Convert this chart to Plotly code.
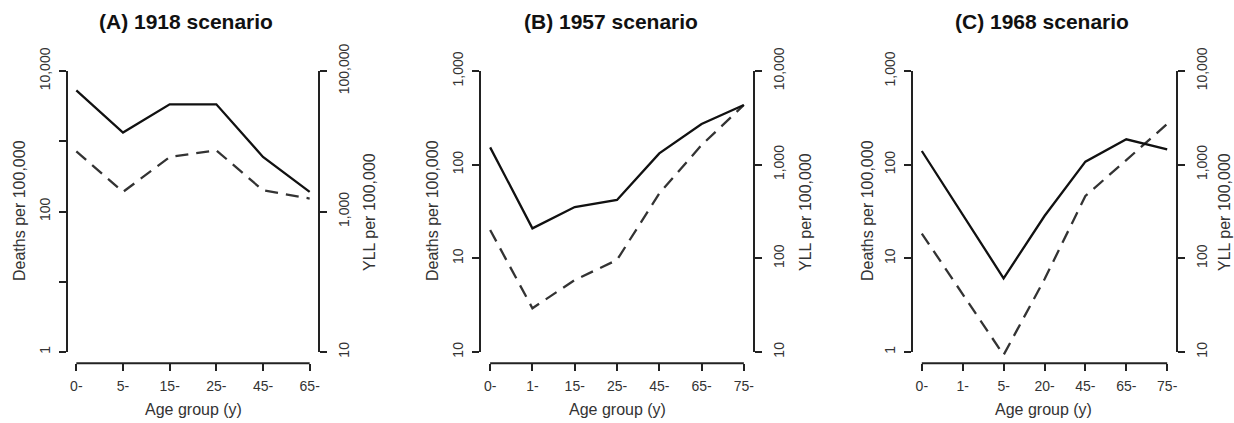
import math
import plotly.graph_objects as go

# ---------------- data ----------------
ages_A = ["0-", "5-", "15-", "25-", "45-", "65-"]
deaths_A = [720, 190, 597, 743, 200, 153]
yll_A = [53100, 13300, 33600, 33600, 5970, 1900]

ages_B = ["0-", "1-", "15-", "25-", "45-", "65-", "75-"]
deaths_B = [20.1, 2.93, 5.87, 9.6, 49.4, 162, 434]
yll_B = [1530, 209, 353, 420, 1321, 2716, 4335]

ages_C = ["0-", "1-", "5-", "20-", "45-", "65-", "75-"]
deaths_C = [18.4, 4.08, 0.93, 5.97, 46.3, 112, 272]
yll_C = [1400, 289, 61.2, 283, 1077, 1866, 1459]

titles = ["(A) 1918 scenario", "(B) 1957 scenario", "(C) 1968 scenario"]

left_ticks_A = [1, 10, 100, 1000, 10000]
left_text_A = ["1", "", "100", "", "10,000"]
right_ticks_A = [10, 1000, 100000]
right_text_A = ["10", "1,000", "100,000"]

left_ticks_B = [1, 10, 100, 1000]
left_text_B = ["10", "10", "100", "1,000"]
right_ticks_B = [10, 100, 1000, 10000]
right_text_B = ["10", "100", "1,000", "10,000"]

left_ticks_C = [1, 10, 100, 1000]
left_text_C = ["1", "10", "100", "1,000"]
right_ticks_C = [10, 100, 1000, 10000]
right_text_C = ["10", "100", "1,000", "10,000"]

# ---------------- layout geometry (pixels) ----------------
W, H = 1234, 423
FONT = "Liberation Sans, Arial, Helvetica, sans-serif"
TXT = "#333333"
AX = "#222222"
PAD = 0.04  # R-style axis extension

panels = [
    dict(ages=ages_A, deaths=deaths_A, yll=yll_A, px=(67, 319),
         lt=left_ticks_A, ltx=left_text_A, rt=right_ticks_A, rtx=right_text_A,
         title_x=186, ylab_x=19, y2lab_x=369, xlab_x=193),
    dict(ages=ages_B, deaths=deaths_B, yll=yll_B, px=(480, 754),
         lt=left_ticks_B, ltx=left_text_B, rt=right_ticks_B, rtx=right_text_B,
         title_x=611, ylab_x=432, y2lab_x=805, xlab_x=617),
    dict(ages=ages_C, deaths=deaths_C, yll=yll_C, px=(912, 1177),
         lt=left_ticks_C, ltx=left_text_C, rt=right_ticks_C, rtx=right_text_C,
         title_x=1042, ylab_x=867, y2lab_x=1224, xlab_x=1043),
]

y_top_px, y_bot_px = 59.8, 363.2
ydom = [(H - y_bot_px) / H, (H - y_top_px) / H]

fig = go.Figure()
layout = dict(
    width=W, height=H, margin=dict(l=0, r=0, t=0, b=0, pad=0, autoexpand=False),
    paper_bgcolor="white", plot_bgcolor="white", showlegend=False,
    font=dict(family=FONT, color=TXT, size=14),
)
shapes = []
annotations = []
f = PAD / (1 + 2 * PAD)

def logrange(ticks):
    lo, hi = math.log10(ticks[0]), math.log10(ticks[-1])
    span = hi - lo
    return [lo - PAD * span, hi + PAD * span]

for i, p in enumerate(panels):
    n = i + 1
    xk = "x" if n == 1 else f"x{n}"
    yl = "y" if n == 1 else f"y{2 * n - 1}"
    yr = f"y{2 * n}"
    xkey = "xaxis" if n == 1 else f"xaxis{n}"
    ylkey = "yaxis" if n == 1 else f"yaxis{2 * n - 1}"
    yrkey = f"yaxis{2 * n}"

    ncat = len(p["ages"])
    span = ncat - 1
    layout[xkey] = dict(
        domain=[p["px"][0] / W, p["px"][1] / W], anchor=yl,
        type="category", range=[-PAD * span, span + PAD * span],
        showgrid=False, zeroline=False, showline=False, automargin=False,
        ticks="outside", ticklen=7, tickwidth=2, tickcolor=AX,
        ticklabelstandoff=3,
        tickfont=dict(size=14, color=TXT, family=FONT),
    )
    layout[ylkey] = dict(
        domain=ydom, anchor=xk, type="log", range=logrange(p["lt"]),
        tickvals=p["lt"], ticktext=p["ltx"], tickangle=-90,
        showgrid=False, zeroline=False, showline=False, automargin=False,
        ticks="outside", ticklen=7, tickwidth=2, tickcolor=AX,
        ticklabelstandoff=3,
        tickfont=dict(size=14, color=TXT, family=FONT),
    )
    layout[yrkey] = dict(
        overlaying=yl, side="right", anchor=xk, type="log", range=logrange(p["rt"]),
        tickvals=p["rt"], ticktext=p["rtx"], tickangle=-90,
        showgrid=False, zeroline=False, showline=False, automargin=False,
        ticks="outside", ticklen=7, tickwidth=2, tickcolor=AX,
        ticklabelstandoff=5,
        tickfont=dict(size=14, color=TXT, family=FONT),
    )

    fig.add_trace(go.Scatter(
        x=p["ages"], y=p["deaths"], mode="lines", xaxis=xk, yaxis=yl,
        line=dict(color="#333333", width=2.3, dash="13px,8px"),
        name="Deaths", cliponaxis=False,
    ))
    fig.add_trace(go.Scatter(
        x=p["ages"], y=p["yll"], mode="lines", xaxis=xk, yaxis=yr,
        line=dict(color="#111111", width=2.3),
        name="YLL", cliponaxis=False,
    ))

    # R-style axis lines spanning only the tick range
    line_style = dict(color=AX, width=2)
    shapes.append(dict(type="line", xref=f"{xk} domain", yref=f"{yl} domain",
                       x0=0, x1=0, y0=f, y1=1 - f, line=line_style))
    shapes.append(dict(type="line", xref=f"{xk} domain", yref=f"{yl} domain",
                       x0=1, x1=1, y0=f, y1=1 - f, line=line_style))
    shapes.append(dict(type="line", xref=f"{xk} domain", yref=f"{yl} domain",
                       x0=f, x1=1 - f, y0=0, y1=0, line=line_style))

    annotations.append(dict(
        text=f"<b>{titles[i]}</b>", x=p["title_x"] / W, y=(H - 22) / H,
        xref="paper", yref="paper", showarrow=False, xanchor="center", yanchor="middle",
        font=dict(size=21, color="#111111", family=FONT),
    ))
    annotations.append(dict(
        text="Deaths per 100,000", x=p["ylab_x"] / W, y=(H - 211) / H,
        xref="paper", yref="paper", showarrow=False, textangle=-90,
        xanchor="center", yanchor="middle",
        font=dict(size=16, color=TXT, family=FONT),
    ))
    annotations.append(dict(
        text="YLL per 100,000", x=p["y2lab_x"] / W, y=(H - 212) / H,
        xref="paper", yref="paper", showarrow=False, textangle=-90,
        xanchor="center", yanchor="middle",
        font=dict(size=16, color=TXT, family=FONT),
    ))
    annotations.append(dict(
        text="Age group (y)", x=p["xlab_x"] / W, y=(H - 409) / H,
        xref="paper", yref="paper", showarrow=False,
        xanchor="center", yanchor="middle",
        font=dict(size=16, color=TXT, family=FONT),
    ))

layout["shapes"] = shapes
layout["annotations"] = annotations
fig.update_layout(**layout)
fig.write_html(
    "out.html",
    config={"displayModeBar": False},
    post_script="document.body.style.margin='0';document.body.style.padding='0';document.body.style.overflow='hidden';",
)
